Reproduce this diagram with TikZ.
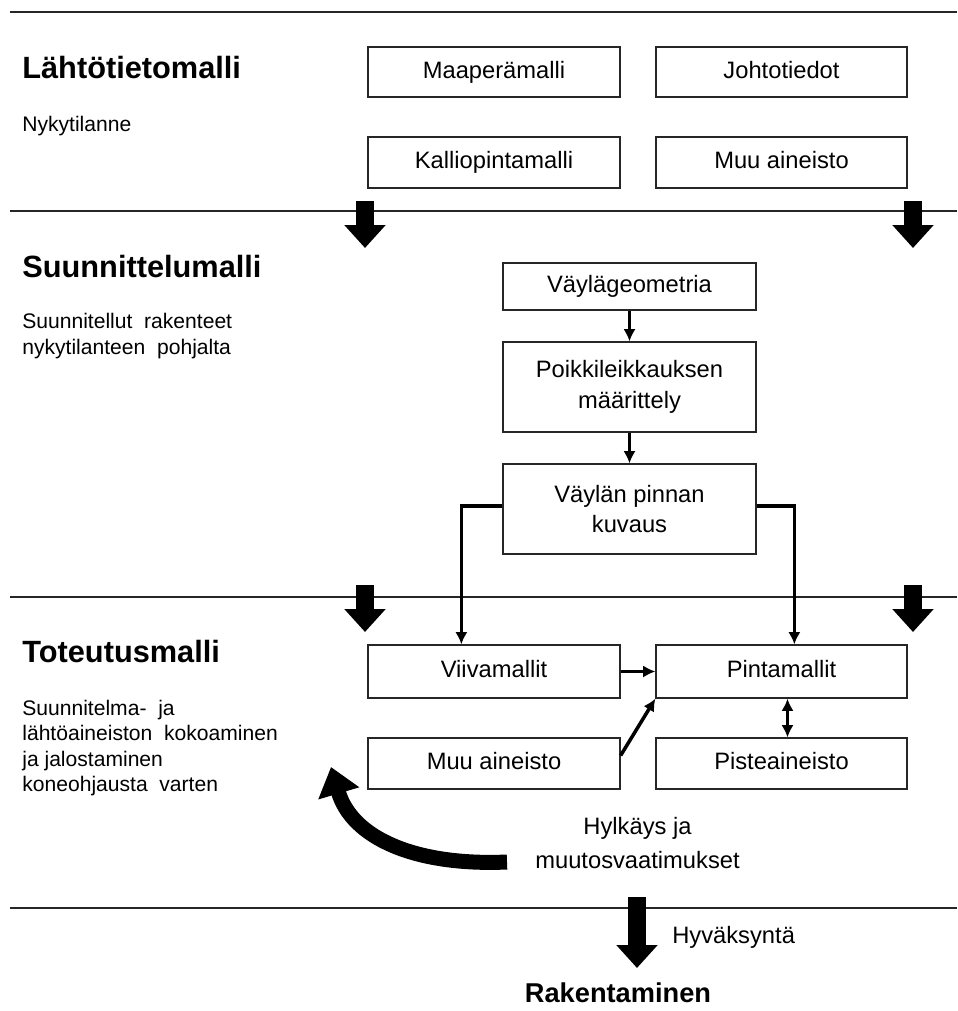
\documentclass[tikz,border=0pt]{standalone}
\usepackage{fontspec}
\setmainfont{Liberation Sans}
\usepackage{tikz}
\usetikzlibrary{calc}
\usetikzlibrary{arrows.meta}
\usetikzlibrary{positioning}
\tikzset{>=latex}
\tikzstyle{box} = [rectangle, draw=black!85, line width=0.75pt, align=center, inner sep=0pt, font=\fontsize{13.5}{17.5}\selectfont]
\tikzstyle{onebox} = [box, text height=9.7pt, text depth=2.8pt]
\tikzstyle{head} = [inner sep=0pt, anchor=west, font=\fontsize{17.5}{20}\selectfont\bfseries]
\tikzstyle{note} = [inner sep=0pt, anchor=west, align=left, font=\fontsize{12}{14.5}\selectfont]
\tikzstyle{flow} = [line width=2pt, -{Latex[length=7pt, width=7pt]}]
\tikzstyle{flowboth} = [line width=2pt, {Latex[length=7pt, width=7pt]}-{Latex[length=7pt, width=7pt]}]
\tikzstyle{fat} = [line width=0.36cm, -{Triangle[length=0.46cm, width=0.8cm]}]
\tikzstyle{band} = [line width=0.6pt, draw=black!85]

\begin{document}
\begin{tikzpicture}[x=0.02cm, y=-0.02cm]
\useasboundingbox (0,0) rectangle (957,1011);
% bands
\draw [band] (10,12) -- (957,12);
\draw [band] (10,211) -- (957,211);
\draw [band] (10,597) -- (957,597);
\draw [band] (10,908) -- (957,908);
% left column
\node [head] (L1) at (22,68) {Lähtötietomalli};
\node [note] (N1) at (22,126) {Nykytilanne};
\node [head] (L2) at (22,267) {Suunnittelumalli};
\node [note] (N2) at (22,336) {Suunnitellut~ rakenteet\\nykytilanteen~ pohjalta};
\node [head] (L3) at (22,652) {Toteutusmalli};
\node [note] (N3) at (22,748) {Suunnitelma-~ ja\\lähtöaineiston~ kokoaminen\\ja jalostaminen\\koneohjausta~ varten};
% lahtotietomalli
\node [onebox, minimum width=5.04cm, minimum height=1cm] (MP) at (494,72) {Maaperämalli};
\node [onebox, minimum width=5.02cm, minimum height=1cm] (JT) at (781.5,72) {Johtotiedot};
\node [onebox, minimum width=5.04cm, minimum height=1.02cm] (KP) at (494,162.5) {Kalliopintamalli};
\node [onebox, minimum width=5.02cm, minimum height=1.02cm] (MA) at (781.5,162.5) {Muu aineisto};
% suunnittelumalli
\node [onebox, minimum width=5.06cm, minimum height=0.94cm] (VG) at (629.5,286.5) {Väylägeometria};
\node [box, minimum width=5.06cm, minimum height=1.8cm] (PK) at (629.5,387) {Poikkileikkauksen\\määrittely};
\node [box, minimum width=5.06cm, minimum height=1.8cm] (VP) at (629.5,509) {Väylän pinnan\\kuvaus};
% toteutusmalli
\node [onebox, minimum width=5.04cm, minimum height=1.06cm] (VI) at (494,671.5) {Viivamallit};
\node [onebox, minimum width=5.02cm, minimum height=1.06cm] (PI) at (781.5,671.5) {Pintamallit};
\node [onebox, minimum width=5.04cm, minimum height=1.02cm] (MU) at (494,763.5) {Muu aineisto};
\node [onebox, minimum width=5.02cm, minimum height=1.02cm] (PS) at (781.5,763.5) {Pisteaineisto};
\node [align=center, inner sep=0pt, font=\fontsize{13.5}{19}\selectfont] (HY) at (637.5,843) {Hylkäys ja\\muutosvaatimukset};
\node [inner sep=0pt, anchor=west, font=\fontsize{13.5}{17}\selectfont] (OK) at (672,937) {Hyväksyntä};
\node [inner sep=0pt, font=\fontsize{15.5}{18}\selectfont\bfseries] (RK) at (618,993) {Rakentaminen};
% fat arrows
\coordinate (A1) at (365,201); \coordinate (A1e) at (365,248);
\coordinate (A2) at (913,201); \coordinate (A2e) at (913,248);
\coordinate (B1) at (365,585); \coordinate (B1e) at (365,632);
\coordinate (B2) at (913,585); \coordinate (B2e) at (913,632);
\coordinate (C1) at (637,897); \coordinate (C1e) at (637,968);
\draw [fat] (A1) -- (A1e);
\draw [fat] (A2) -- (A2e);
\draw [fat] (B1) -- (B1e);
\draw [fat] (B2) -- (B2e);
\draw [fat] (C1) -- (C1e);
% return arrow
\coordinate (R1) at (507,862);
\coordinate (R2) at (331,767);
\draw [line width=0.3cm, -{Triangle[length=0.55cm, width=0.82cm]}] (R1) .. controls (415,866) and (352,838) .. (R2);
% flow
\draw [flow] (VG) -- (PK);
\draw [flow] (PK) -- (VP);
\draw [flow] ($(VP.west)+(0,-3)$) -| ($(VI.north west)+(94,0)$);
\draw [flow] ($(VP.east)+(0,-3)$) -| ($(PI.north west)+(139,0)$);
\draw [flow] (VI.east) -- (PI.west);
\draw [flow] ($(MU.east)+(0,-8)$) -- (PI.south west);
\draw [flowboth] ($(PI.south)+(6,0)$) -- ($(PS.north)+(6,0)$);
\end{tikzpicture}
\end{document}
